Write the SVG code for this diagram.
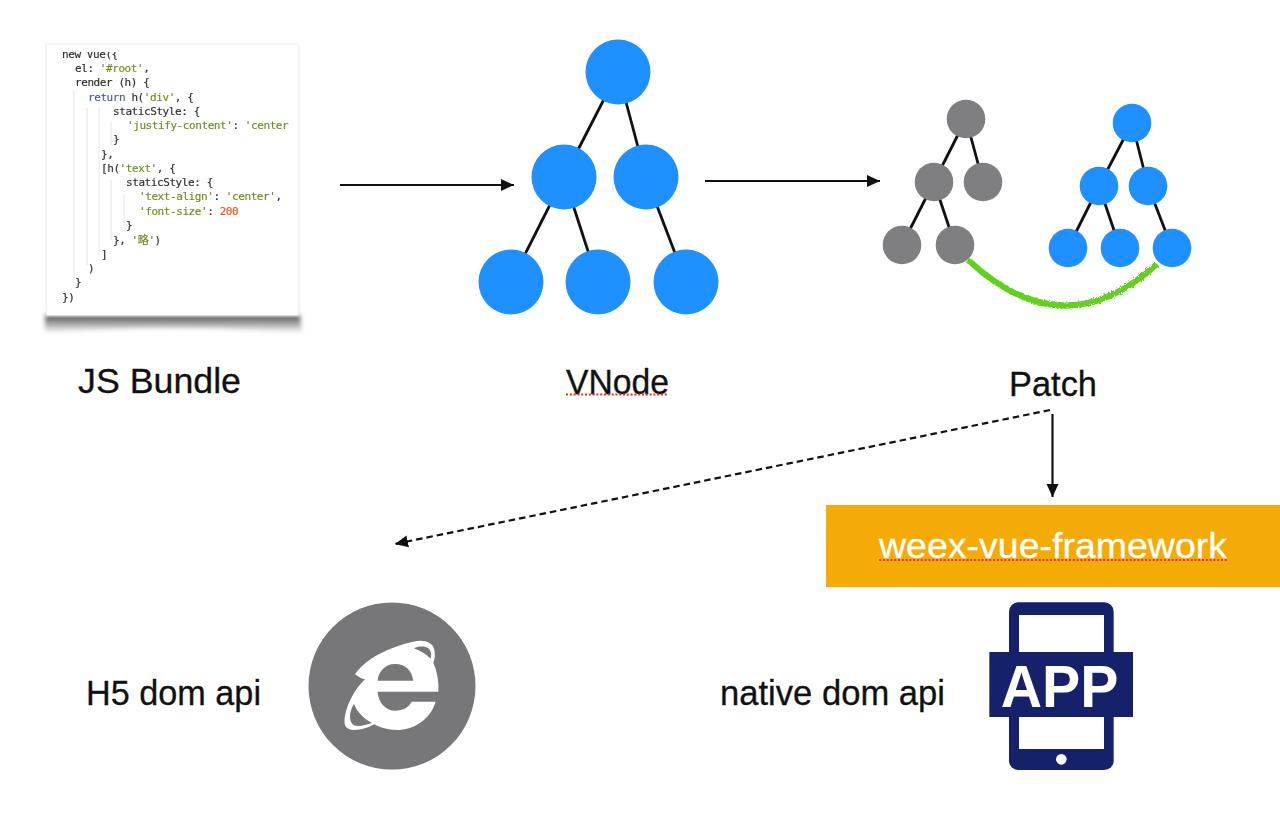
<svg xmlns="http://www.w3.org/2000/svg" width="1280" height="821" viewBox="0 0 1280 821">
<defs>
<style>
.lbl{font-family:"Liberation Sans",Arial,sans-serif;font-size:35.500px;fill:#111;stroke:#111;stroke-width:.3}
.code{font-family:"DejaVu Sans Mono","Liberation Mono",monospace;font-size:11px;letter-spacing:-.42px;fill:#2c2c2c;stroke:#2c2c2c;stroke-width:.15}
.str{fill:#6f8a1e;stroke:#6f8a1e}
.kw{fill:#4a5a9a;stroke:#4a5a9a}
.num{fill:#e0561a;stroke:#e0561a}
.edge{stroke:#111;stroke-width:2.800;fill:none}
.flow{stroke:#111;stroke-width:2.200;fill:none}
.blue{fill:#1e90ff}
.gray{fill:#7f7e80}
.guide{stroke:#e4e4e4;stroke-width:1}
.wavy{fill:none;stroke:#e8301a;stroke-width:2;stroke-dasharray:2 1.800}
</style>
<marker id="arrow" markerUnits="userSpaceOnUse" markerWidth="14" markerHeight="13" refX="13" refY="6.500" orient="auto"><path d="M0 .5L13 6.500L0 12.500z" fill="#111"/></marker>
<linearGradient id="sh" x1="0" y1="0" x2="0" y2="1"><stop offset="0" stop-color="#505050"/><stop offset=".5" stop-color="#a8a8a8"/><stop offset="1" stop-color="#fff"/></linearGradient>
<filter id="soft" x="-5%" y="-5%" width="110%" height="110%"><feGaussianBlur stdDeviation="0.4"/></filter>
<filter id="soft2" x="-10%" y="-50%" width="120%" height="200%"><feGaussianBlur stdDeviation="2"/></filter>
<filter id="soft3" x="-10%" y="-10%" width="120%" height="120%"><feGaussianBlur stdDeviation="1.200"/></filter>
<filter id="rough" x="-5%" y="-20%" width="110%" height="140%"><feTurbulence type="fractalNoise" baseFrequency="0.7" numOctaves="2" seed="3"/><feDisplacementMap in="SourceGraphic" scale="3.500"/></filter>
<clipPath id="card"><rect x="47" y="52" width="251" height="263"/></clipPath>
</defs>
<rect width="1280" height="821" fill="#fff"/>
<g id="js-bundle">
<path d="M45 315H300L302 333Q172 323 45 333z" fill="url(#sh)" filter="url(#soft2)"/>
<rect x="45.500" y="44" width="254" height="272" fill="#eee" filter="url(#soft3)"/>
<rect x="47" y="45" width="251" height="270" fill="#fff"/>
<g class="guide"><line x1="74" y1="90" x2="74" y2="278"/><line x1="87" y1="108" x2="87" y2="265"/><line x1="99" y1="108" x2="99" y2="255"/><line x1="111" y1="122" x2="111" y2="145"/><line x1="111" y1="180" x2="111" y2="240"/><line x1="124" y1="195" x2="124" y2="225"/></g>
<g clip-path="url(#card)" filter="url(#soft)">
<text class="code" x="62" y="58">new Vue({</text>
<text class="code" x="75" y="72">el: <tspan class="str">'#root'</tspan>,</text>
<text class="code" x="75" y="86">render (h) {</text>
<text class="code" x="88" y="100.500"><tspan class="kw">return</tspan> h(<tspan class="str">'div'</tspan>, {</text>
<text class="code" x="113" y="115">staticStyle: {</text>
<text class="code" x="127" y="129"><tspan class="str">'justify-content'</tspan>: <tspan class="str">'center</tspan></text>
<text class="code" x="113" y="143">}</text>
<text class="code" x="101" y="157.500">},</text>
<text class="code" x="101" y="172">[h(<tspan class="str">'text'</tspan>, {</text>
<text class="code" x="126" y="186">staticStyle: {</text>
<text class="code" x="139" y="200"><tspan class="str">'text-align'</tspan>: <tspan class="str">'center'</tspan>,</text>
<text class="code" x="139" y="214.500"><tspan class="str">'font-size'</tspan>: <tspan class="num">200</tspan></text>
<text class="code" x="126" y="229">}</text>
<text class="code" x="113" y="243.500">}, <tspan class="str">'<tspan font-family="Noto Sans CJK SC,sans-serif">略</tspan>'</tspan>)</text>
<text class="code" x="101" y="258">]</text>
<text class="code" x="88" y="272">)</text>
<text class="code" x="75" y="286">}</text>
<text class="code" x="62" y="300.500">})</text>
</g>
</g>
<g id="connectors">
<line class="flow" x1="340" y1="185" x2="514" y2="185" marker-end="url(#arrow)"/>
<line class="flow" x1="705" y1="181" x2="880" y2="181" marker-end="url(#arrow)"/>
<line class="flow" x1="1052.500" y1="414" x2="1052.500" y2="497" marker-end="url(#arrow)"/>
<line class="flow" x1="1050" y1="410" x2="395" y2="544" stroke-width="2.400" stroke-dasharray="6.500 4" marker-end="url(#arrow)"/>
<path d="M968 260Q1064 349 1157 264" fill="none" stroke="#62d01e" stroke-width="6" filter="url(#rough)"/>
</g>
<g id="vnode-tree">
<g class="edge"><line x1="618" y1="72" x2="564" y2="177"/><line x1="618" y1="72" x2="646" y2="177"/><line x1="564" y1="177" x2="511" y2="282"/><line x1="564" y1="177" x2="598" y2="282"/><line x1="646" y1="177" x2="686" y2="282"/></g>
<g class="blue"><circle cx="618" cy="72" r="32.500"/><circle cx="564" cy="177" r="32.500"/><circle cx="646" cy="177" r="32.500"/><circle cx="511" cy="282" r="32.500"/><circle cx="598" cy="282" r="32.500"/><circle cx="686" cy="282" r="32.500"/></g>
</g>
<g id="patch-old-tree">
<g class="edge"><line x1="966" y1="119" x2="934" y2="182"/><line x1="966" y1="119" x2="983" y2="182"/><line x1="934" y1="182" x2="902" y2="245"/><line x1="934" y1="182" x2="955" y2="245"/></g>
<g class="gray"><circle cx="966" cy="119" r="19.300"/><circle cx="934" cy="182" r="19.300"/><circle cx="983" cy="182" r="19.300"/><circle cx="902" cy="245" r="19.300"/><circle cx="955" cy="245" r="19.300"/></g>
</g>
<g id="patch-new-tree">
<g class="edge"><line x1="1132" y1="123" x2="1099" y2="186"/><line x1="1132" y1="123" x2="1148" y2="186"/><line x1="1099" y1="186" x2="1068" y2="248"/><line x1="1099" y1="186" x2="1120" y2="248"/><line x1="1148" y1="186" x2="1172" y2="248"/></g>
<g class="blue"><circle cx="1132" cy="123" r="19.300"/><circle cx="1099" cy="186" r="19.300"/><circle cx="1148" cy="186" r="19.300"/><circle cx="1068" cy="248" r="19.300"/><circle cx="1120" cy="248" r="19.300"/><circle cx="1172" cy="248" r="19.300"/></g>
</g>
<g id="label-js-bundle"><text class="lbl" x="78" y="393" textLength="163" lengthAdjust="spacingAndGlyphs">JS Bundle</text></g>
<g id="label-vnode"><text class="lbl" x="566" y="393.500" textLength="103" lengthAdjust="spacingAndGlyphs">VNode</text><line class="wavy" x1="566" y1="394.500" x2="668" y2="394.500"/></g>
<g id="label-patch"><text class="lbl" x="1009" y="396" textLength="88" lengthAdjust="spacingAndGlyphs">Patch</text></g>
<g id="weex-vue-framework">
<rect x="826" y="505" width="454" height="82" fill="#f5ab05"/>
<text x="879" y="558" font-family="'Liberation Sans',Arial,sans-serif" font-size="35.500" fill="#fff" stroke="#fff" stroke-width=".3" textLength="348" lengthAdjust="spacingAndGlyphs">weex-vue-framework</text>
<line class="wavy" x1="879" y1="560" x2="1228" y2="560"/>
</g>
<g id="h5-dom-api">
<text class="lbl" x="86" y="705" textLength="175" lengthAdjust="spacingAndGlyphs">H5 dom api</text>
<circle cx="392" cy="686" r="83.500" fill="#77777a"/>
<g transform="translate(340 640) scale(.33333)">
<path d="M45 103C70 65 130 25 220 5C250 -2 278 5 283 30C286 45 284 60 280 68C292 95 297 125 295 155H113V122H220C215 90 195 72 165 72C135 72 115 95 113 122V155C115 190 140 212 165 212C190 212 208 200 215 185H287C270 240 220 270 170 270C145 270 120 263 103 253C75 268 28 280 16 258C6 232 30 160 75 118C65 118 55 110 45 103Z" fill="#fff"/>
<path d="M222 25C240 15 268 18 272 35C274 42 274 50 272 56C258 42 240 32 222 25ZM42 192C28 212 24 245 42 256C55 262 80 254 96 249C72 236 52 217 42 192Z" fill="#77777a"/>
</g>
</g>
<g id="native-dom-api">
<text class="lbl" x="720" y="705" textLength="225" lengthAdjust="spacingAndGlyphs">native dom api</text>
<g transform="translate(960 590) scale(.33333)">
<rect x="147" y="37" width="314" height="503" rx="28" fill="#15216b"/>
<rect x="177" y="75" width="255" height="112" fill="#fff"/>
<rect x="177" y="380" width="255" height="97" fill="#fff"/>
<circle cx="304" cy="508" r="16" fill="#fff"/>
<rect x="88" y="186" width="431" height="195" fill="#15216b"/>
<text x="122" y="350" font-family="'Liberation Sans',Arial,sans-serif" font-weight="700" font-size="180" fill="#fff" textLength="353" lengthAdjust="spacingAndGlyphs">APP</text>
</g>
</g>
</svg>
